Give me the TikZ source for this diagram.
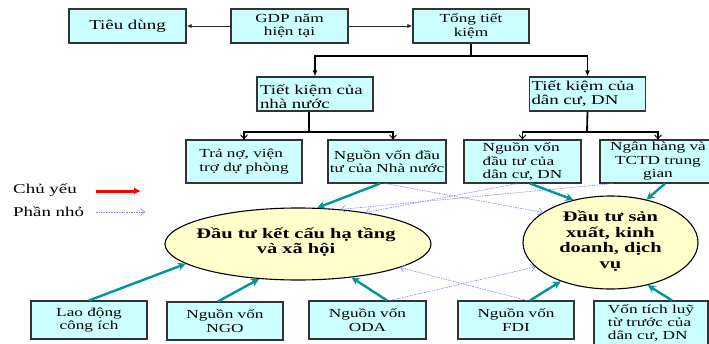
\documentclass[tikz,border=0pt]{standalone}
\usepackage{fontspec}
\setmainfont[FakeStretch=1.4]{Liberation Serif}
\usetikzlibrary{arrows.meta,calc,shapes.geometric}
\definecolor{boxc}{RGB}{204,255,255}
\definecolor{ellc}{RGB}{255,255,204}
\definecolor{tealc}{RGB}{0,150,150}
\definecolor{dotc}{RGB}{130,130,255}
\begin{document}
\begin{tikzpicture}[x=1pt,y=-1pt,
  box/.style={draw=black!80, line width=1.1pt, fill=boxc, minimum width=116, minimum height=34,
    inner sep=1pt, align=center, font=\fontsize{12.3}{13.5}\selectfont},
  bigtxt/.style={font=\fontsize{13.5}{14}\selectfont},
  ell/.style={ellipse, draw=black, line width=1.1pt, fill=ellc, inner sep=0},
  elltext/.style={align=center, inner sep=0, font=\fontsize{14.6}{15.5}\selectfont\bfseries},
  thinarr/.style={draw=black!85, line width=0.9pt, -{Latex[length=5pt,width=4pt]}},
  thickln/.style={draw=black, line width=1.8pt},
  thickarr/.style={draw=black, line width=1.8pt, -{Latex[length=6pt,width=5pt]}},
  openarr/.style={draw=black, line width=0.9pt, -{Straight Barb[length=4pt,width=7pt]}},
  main/.style={draw=tealc, line width=2.4pt, -{Stealth[length=8pt,width=8pt]}},
  minor/.style={draw=dotc, line width=0.6pt, dash pattern=on 1.5pt off 1pt, -{Straight Barb[length=4pt,width=7pt,line width=0.6pt]}},
  legtxt/.style={anchor=west, inner sep=0, font=\fontsize{13.5}{14}\selectfont}
]
\clip (0,0) rectangle (709,343);

% top row
\node[box, bigtxt, minimum width=117] (tieu) at (127.5,26) {Tiêu dùng};
\node[box, minimum width=117] (gdp) at (289.5,26) {GDP năm\\hiện tại};
\node[box] (tong) at (471,26) {Tổng tiết\\kiệm};

% second row
\node[box, bigtxt, align=left, text width=110, text depth=8pt] (tknn) at (315,94) {Tiết kiệm của\\nhà nước};
\node[box, bigtxt, align=left, text width=112] (tkdc) at (587.5,94) {Tiết kiệm của\\dân cư, DN};

% third row
\node[box, minimum height=43, align=left] (trano) at (244,161.5) {Trả nợ, viện\\trợ dự phòng};
\node[box, minimum width=118, minimum height=43] (nvnn) at (387,161.5) {Nguồn vốn đầu\\tư của Nhà nước};
\node[box, minimum width=117, minimum height=43, align=left] (nvdc) at (522.5,161.5) {Nguồn vốn\\đầu tư của\\dân cư, DN};
\node[box, minimum height=43] (nh) at (658,161.5) {Ngân hàng và\\TCTD trung\\gian};

% ellipses
\node[ell, minimum width=266, minimum height=72] (e1) at (298,244) {};
\node[elltext] (t1) at (296,242) {Đầu tư kết cấu hạ tầng\\và xã hội};
\node[ell, minimum width=175, minimum height=93] (e2) at (610.5,242.5) {};
\node[elltext] (t2) at (610.5,241) {Đầu tư sản\\xuất, kinh\\doanh, dịch\\vụ};

% bottom row
\node[box, minimum height=38] (lao) at (89,320) {Lao động\\công ích};
\node[box, minimum height=38] (ngo) at (225,321) {Nguồn vốn\\NGO};
\node[box, minimum width=117, minimum height=38] (oda) at (367.5,320) {Nguồn vốn\\ODA};
\node[box, minimum height=38] (fdi) at (516,320) {Nguồn vốn\\FDI};
\node[box, minimum width=114, minimum height=51, align=left, text depth=9pt,
      font=\fontsize{12.3}{13}\selectfont] (vtl) at (651,326.5) {Vốn tích luỹ\\từ trước của\\dân cư, DN};

% legend
\node[legtxt] (lg1) at (13,190) {Chủ yếu};
\node[legtxt] (lg2) at (13,212) {Phần nhỏ};
\coordinate (r1) at (96,191);
\coordinate (r2) at (141,191);
\coordinate (b1) at (96,212);
\coordinate (b2) at (145,212);
\draw[draw=red, line width=3pt, -{Latex[length=7pt,width=7pt]}] (r1) -- (r2);
\draw[minor] (b1) -- (b2);

% top connectors
\draw[thinarr] (gdp.west) -- (tieu.east);
\draw[thinarr] (gdp.east) -- (tong.west);
\coordinate (j1) at (471,56);
\draw[thickln] (tong.south) -- (j1);
\draw[thickarr] (j1) -| (tknn.north);
\draw[thickarr] (j1) -| (tkdc.north);

\coordinate (j2) at (309,132);
\draw[thickln] ([xshift=-6pt]tknn.south) -- (j2);
\draw[thickln] (j2) -| ([xshift=6pt]nvnn.north);
\draw[thickln] (j2) -| (trano.north);
\draw[openarr] ([xshift=6pt,yshift=6pt]nvnn.north) -- ([xshift=6pt]nvnn.north);
\draw[openarr] ([yshift=6pt]trano.north) -- (trano.north);

\coordinate (j3) at (587,132);
\draw[thickln] (tkdc.south) -- (j3);
\draw[thickln] (j3) -| (nvdc.north);
\draw[thickln] (j3) -| (nh.north);
\draw[openarr] ([yshift=6pt]nvdc.north) -- (nvdc.north);
\draw[openarr] ([yshift=6pt]nh.north) -- (nh.north);

% main flows
\draw[main] ([xshift=-7pt]nvnn.south) -- (e1.62);
\draw[main] ([xshift=7.5pt]nvdc.south) -- (e2.131);
\draw[main] ([xshift=7pt]nh.south) -- (e2.50);
\draw[main] (lao.north) -- (e1.190);
\draw[main] ([xshift=-7pt]ngo.north) -- (e1.222);
\draw[main] ([xshift=19.5pt]oda.north) -- (e1.328);
\draw[main] ([xshift=14pt]fdi.north) -- (e2.218);
\draw[main] ([xshift=21pt]vtl.north) -- (e2.311);

% minor flows
\draw[minor] ([xshift=-2pt]nvnn.south) -- (e2.156);
\draw[minor] ([xshift=-5.5pt]nvdc.south) -- (e1.25);
\draw[minor] ([xshift=-45pt]nh.south) -- (e1.39);
\draw[minor] ([xshift=22.5pt]oda.north) -- (e2.198);
\draw[minor] ([xshift=11pt]fdi.north) -- (e1.347);
\end{tikzpicture}
\end{document}
